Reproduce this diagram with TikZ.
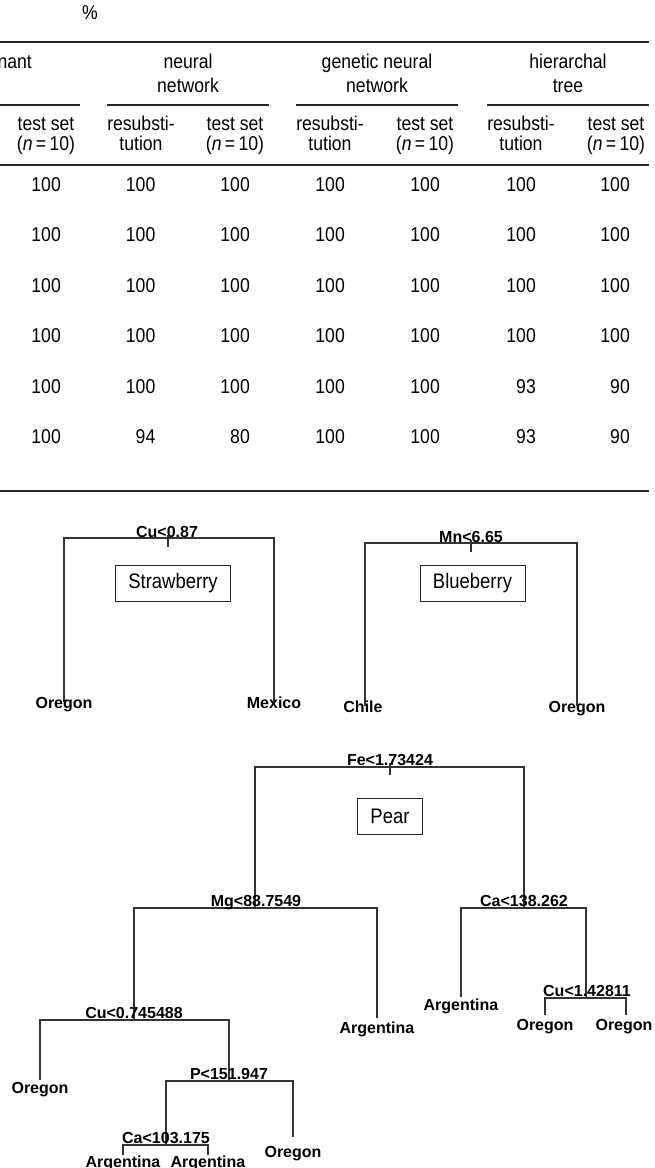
\documentclass[tikz,border=0pt]{standalone}
\usepackage{fontspec}
\setmainfont{Liberation Sans}
\newfontfamily\tabfont{Liberation Sans}[FakeStretch=0.88]
\usetikzlibrary{calc}
\begin{document}
\begin{tikzpicture}[x=1pt,y=-1pt,
  tab/.style={font=\tabfont\fontsize{20}{22}\selectfont, inner sep=0pt, anchor=base},
  num/.style={font=\tabfont\fontsize{20}{22}\selectfont, inner sep=0pt, anchor=base east},
  lab/.style={font=\fontsize{16}{18}\selectfont\bfseries, inner sep=0pt, anchor=base},
  leaf/.style={font=\fontsize{16}{18}\selectfont\bfseries, inner sep=0pt, anchor=base},
  fruit/.style={draw=black!85, line width=0.9pt, font=\tabfont\fontsize{21}{23}\selectfont, inner xsep=13pt, minimum height=36pt},
  rule/.style={line width=1.4pt, draw=black!85},
  branch/.style={line width=1.1pt, draw=black!80},
]
\useasboundingbox (0,0) rectangle (655,1168);
\fill[white] (0,0) rectangle (655,1168);

% ---------------- table ----------------
\node[tab] (pct) at (90,19) {\%};
\draw[rule] (0,42) -- (649,42);
\node[tab, anchor=base east] (h0) at (32,68) {nant};
\node[tab] (h1a) at (188,68) {neural};
\node[tab] (h1b) at (188,92) {network};
\node[tab] (h2a) at (377,68) {genetic neural};
\node[tab] (h2b) at (377,92) {network};
\node[tab] (h3a) at (568,68) {hierarchal};
\node[tab] (h3b) at (568,92) {tree};
\draw[rule] (0,105) -- (80,105);
\draw[rule] (107,105) -- (269,105);
\draw[rule] (296,105) -- (458,105);
\draw[rule] (487,105) -- (649,105);

\node[tab] (s1a) at (46,130) {test set};
\node[tab] (s1b) at (46,150) {(\textit{n}\,=\,10)};
\node[tab] (s2a) at (141,130) {resubsti-};
\node[tab] (s2b) at (141,150) {tution};
\node[tab] (s3a) at (235,130) {test set};
\node[tab] (s3b) at (235,150) {(\textit{n}\,=\,10)};
\node[tab] (s4a) at (330,130) {resubsti-};
\node[tab] (s4b) at (330,150) {tution};
\node[tab] (s5a) at (425,130) {test set};
\node[tab] (s5b) at (425,150) {(\textit{n}\,=\,10)};
\node[tab] (s6a) at (521,130) {resubsti-};
\node[tab] (s6b) at (521,150) {tution};
\node[tab] (s7a) at (616,130) {test set};
\node[tab] (s7b) at (616,150) {(\textit{n}\,=\,10)};
\draw[rule] (0,165) -- (649,165);

\foreach \xr/\v [count=\c] in {61/100,155.5/100,250/100,345/100,440/100,536/100,630/100}
  \node[num] (ra\c) at (\xr,191) {\v};
\foreach \xr/\v [count=\c] in {61/100,155.5/100,250/100,345/100,440/100,536/100,630/100}
  \node[num] (rb\c) at (\xr,241) {\v};
\foreach \xr/\v [count=\c] in {61/100,155.5/100,250/100,345/100,440/100,536/100,630/100}
  \node[num] (rc\c) at (\xr,292) {\v};
\foreach \xr/\v [count=\c] in {61/100,155.5/100,250/100,345/100,440/100,536/100,630/100}
  \node[num] (rd\c) at (\xr,342) {\v};
\foreach \xr/\v [count=\c] in {61/100,155.5/100,250/100,345/100,440/100,536/93,630/90}
  \node[num] (re\c) at (\xr,393) {\v};
\foreach \xr/\v [count=\c] in {61/100,155.5/94,250/80,345/100,440/100,536/93,630/90}
  \node[num] (rf\c) at (\xr,443) {\v};
\draw[rule] (0,491) -- (649,491);

% ---------------- Strawberry tree ----------------
\coordinate (sroot) at (168,538);
\coordinate (sL) at (64,702);
\coordinate (sR) at (274,702);
\draw[branch] (sL) |- (sroot) -| (sR);
\draw[branch] ($(sroot)+(0,-3)$) -- ($(sroot)+(0,9)$);
\node[lab] (slab) at (167,537) {Cu<0.87};
\node[leaf] (sLl) at (64,708) {Oregon};
\node[leaf] (sRl) at (274,708) {Mexico};
\node[fruit] (sbox) at (173,583) {Strawberry};

% ---------------- Blueberry tree ----------------
\coordinate (broot) at (471,543);
\coordinate (bL) at (365,706);
\coordinate (bR) at (577,706);
\draw[branch] (bL) |- (broot) -| (bR);
\draw[branch] ($(broot)+(0,-3)$) -- ($(broot)+(0,9)$);
\node[lab] (blab) at (471,542) {Mn<6.65};
\node[leaf] (bLl) at (363,712) {Chile};
\node[leaf] (bRl) at (577,712) {Oregon};
\node[fruit] (bbox) at (472.5,583) {Blueberry};

% ---------------- Pear tree ----------------
\coordinate (proot) at (390,767);
\coordinate (pMg) at (255,908);
\coordinate (pCa) at (524,908);
\coordinate (pCu1) at (134,1020);
\coordinate (pArg1) at (377,1018);
\coordinate (pArg2) at (461,997);
\coordinate (pCu2) at (586,998);
\coordinate (pOr1) at (545,1015);
\coordinate (pOr2) at (626,1015);
\coordinate (pOr3) at (40,1080);
\coordinate (pP) at (229,1081);
\coordinate (pCa3) at (166,1145);
\coordinate (pOr4) at (293,1137);
\coordinate (pArg3) at (123,1155);
\coordinate (pArg4) at (208,1155);

\draw[branch] (pMg) |- (proot) -| (pCa);
\draw[branch] (pCu1) |- (pMg) -| (pArg1);
\draw[branch] (pArg2) |- (pCa) -| (pCu2);
\draw[branch] (pOr1) |- (pCu2) -| (pOr2);
\draw[branch] (pOr3) |- (pCu1) -| (pP);
\draw[branch] (pCa3) |- (pP) -| (pOr4);
\draw[branch] (pArg3) |- (pCa3) -| (pArg4);
\draw[branch] ($(proot)+(0,-4)$) -- ($(proot)+(0,8)$);

\node[lab] (prootl) at (390,765) {Fe<1.73424};
\node[lab] (pMgl) at (256,906) {Mg<88.7549};
\node[lab] (pCal) at (524,906) {Ca<138.262};
\node[lab] (pCu1l) at (134,1018) {Cu<0.745488};
\node[lab] (pCu2l) at (587,996) {Cu<1.42811};
\node[lab] (pPl) at (229,1079) {P<151.947};
\node[lab] (pCa3l) at (166,1143) {Ca<103.175};

\node[leaf] (pArg1l) at (377,1033) {Argentina};
\node[leaf] (pArg2l) at (461,1010) {Argentina};
\node[leaf] (pOr1l) at (545,1030) {Oregon};
\node[leaf] (pOr2l) at (624,1030) {Oregon};
\node[leaf] (pOr3l) at (40,1093) {Oregon};
\node[leaf] (pOr4l) at (293,1157) {Oregon};
\node[leaf] (pArg3l) at (123,1167) {Argentina};
\node[leaf] (pArg4l) at (208,1167) {Argentina};

\node[fruit] (pbox) at (390,816) {Pear};
\end{tikzpicture}
\end{document}
